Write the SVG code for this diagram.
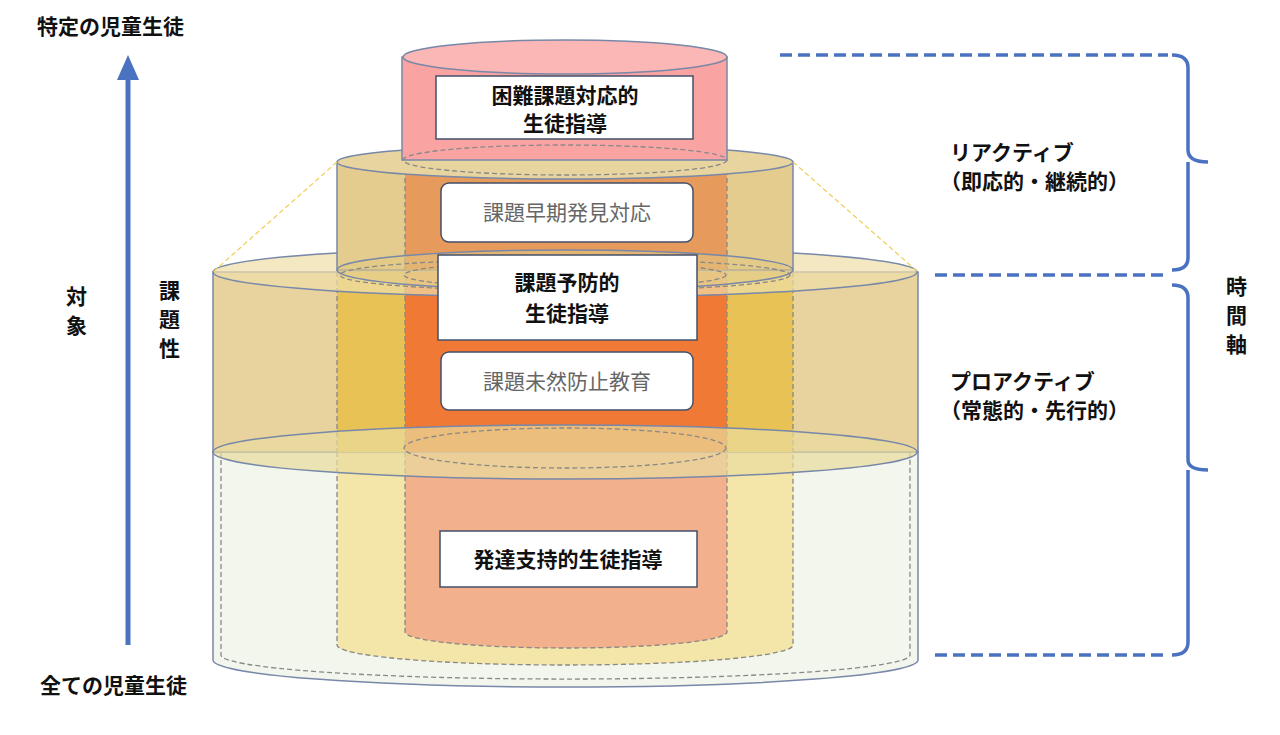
<svg xmlns="http://www.w3.org/2000/svg" width="1280" height="735" viewBox="0 0 1280 735">
<style>
text{font-family:"Noto Sans CJK JP","Noto Sans",sans-serif;fill:#111}
.b{font-weight:bold;font-size:21px}
.g{font-size:21px;fill:#666}
.edge{stroke:#7888a8;stroke-width:1.5}
.dash{stroke:#888;stroke-width:1.3;stroke-dasharray:5 3;fill:none}
.box{fill:#fff;stroke:#44506a;stroke-width:1.5}
.blue{stroke:#4a72c0;stroke-width:3.5;fill:none}
</style>
<rect width="1280" height="735" fill="#fff"/>
<g id="bottom-cylinder">
<path d="M213,452 V660 A352,27 0 0 0 918,660 V452 Z" fill="#f2f6ec" class="edge"/>
<path d="M337,452 V645 A228,20 0 0 0 793,645 V452 Z" fill="#f3e6a8"/>
<path d="M337,452 V645 A228,20 0 0 0 793,645 V452" class="dash"/>
<path d="M405,452 V632 A161,16 0 0 0 727,632 V452 Z" fill="#f2b08c"/>
<path d="M405,452 V632 A161,16 0 0 0 727,632 V452" class="dash"/>
<path d="M221,452 V655 A344,24 0 0 0 910,655 V452" class="dash" stroke-dasharray="2 3"/>
</g>
<g id="large-cylinder">
<rect x="213" y="272" width="705" height="180" fill="#e8d29e" class="edge"/>
<rect x="337" y="272" width="456" height="180" fill="#e8c255"/>
<rect x="405" y="272" width="322" height="180" fill="#f07a35"/>
<line x1="337" y1="272" x2="337" y2="452" class="dash"/>
<line x1="793" y1="272" x2="793" y2="452" class="dash"/>
<line x1="405" y1="272" x2="405" y2="452" class="dash"/>
<line x1="727" y1="272" x2="727" y2="452" class="dash"/>
<ellipse cx="565" cy="452" rx="352" ry="27" fill="#eadc9e" fill-opacity="0.7" class="edge"/>
<ellipse cx="565" cy="448" rx="161" ry="20" fill="#f0a080" class="dash"/>
<ellipse cx="565" cy="272" rx="352" ry="25" fill="#f0deaa" fill-opacity="0.7" class="edge"/>
</g>
<g id="middle-cylinder">
<rect x="337" y="162" width="456" height="108" fill="#e4cc8e" class="edge"/>
<rect x="405" y="162" width="322" height="108" fill="#e69a5c"/>
<line x1="405" y1="162" x2="405" y2="270" class="dash"/>
<line x1="727" y1="162" x2="727" y2="270" class="dash"/>
<ellipse cx="565" cy="270" rx="228" ry="20" fill="#e2c880" fill-opacity="0.6" class="edge"/>
<ellipse cx="565" cy="275" rx="225" ry="16" class="dash"/>
<ellipse cx="565" cy="275" rx="161" ry="13" fill="#ec8850" fill-opacity="0.6" class="dash"/>
<ellipse cx="565" cy="162" rx="228" ry="17" fill="#e8d49e" class="edge"/>
</g>
<g id="top-cylinder">
<rect x="402" y="57" width="325" height="103" fill="#f9a3a3" class="edge"/>
<ellipse cx="565" cy="160" rx="162" ry="15" fill="#ee9070" class="dash"/>
<ellipse cx="565" cy="57" rx="162" ry="17" fill="#fbb6b6" class="edge"/>
</g>
<g id="guides">
<line x1="337" y1="162" x2="213" y2="272" stroke="#f0d060" stroke-width="1.3" stroke-dasharray="5 3"/>
<line x1="793" y1="162" x2="918" y2="272" stroke="#f0d060" stroke-width="1.3" stroke-dasharray="5 3"/>
</g>
<g id="box-konnan"><rect x="436" y="76" width="257" height="63" class="box"/><text class="b" x="565" y="103" text-anchor="middle">困難課題対応的</text><text class="b" x="565" y="131" text-anchor="middle">生徒指導</text></g>
<g id="box-soki"><rect x="441" y="183" width="252" height="59" rx="8" class="box"/><text class="g" x="567" y="220" text-anchor="middle">課題早期発見対応</text></g>
<g id="box-yobo"><rect x="438" y="255" width="259" height="85" class="box"/><text class="b" x="567" y="290" text-anchor="middle">課題予防的</text><text class="b" x="567" y="321" text-anchor="middle">生徒指導</text></g>
<g id="box-mizen"><rect x="441" y="352" width="252" height="58" rx="8" class="box"/><text class="g" x="567" y="389" text-anchor="middle">課題未然防止教育</text></g>
<g id="box-hattatsu"><rect x="440" y="531" width="257" height="56" class="box"/><text class="b" x="568" y="567" text-anchor="middle">発達支持的生徒指導</text></g>
<g id="left-axis">
<line x1="128" y1="645" x2="128" y2="75" stroke="#4a72c0" stroke-width="5"/>
<polygon points="128,55 117,80 139,80" fill="#4a72c0"/>
<text class="b" x="37" y="34">特定の児童生徒</text>
<text class="b" x="40" y="693">全ての児童生徒</text>
<text class="b" x="66" y="304">対</text><text class="b" x="66" y="333">象</text>
<text class="b" x="159" y="298">課</text><text class="b" x="159" y="327">題</text><text class="b" x="159" y="356">性</text>
</g>
<g id="connectors">
<line x1="780" y1="55" x2="1168" y2="55" class="blue" stroke-width="3" stroke-dasharray="12 6"/>
<line x1="935" y1="275" x2="1168" y2="275" class="blue" stroke-width="3" stroke-dasharray="12 6"/>
<line x1="935" y1="655" x2="1168" y2="655" class="blue" stroke-width="3" stroke-dasharray="12 6"/>
<path d="M1172,55 Q1188,55 1188,68 V150 Q1188,162 1208,162 M1188,162 Q1188,174 1188,176 V258 Q1188,270 1172,270" class="blue"/>
<path d="M1172,285 Q1188,285 1188,298 V460 Q1188,470 1208,470 M1188,470 V642 Q1188,655 1172,655" class="blue"/>
</g>
<g id="right-labels">
<text class="b" x="950" y="160" font-size="20">リアクティブ</text>
<text class="b" x="940" y="189" font-size="20">（即応的・継続的）</text>
<text class="b" x="950" y="389" font-size="20">プロアクティブ</text>
<text class="b" x="940" y="418" font-size="20">（常態的・先行的）</text>
<text class="b" x="1226" y="294">時</text><text class="b" x="1226" y="323">間</text><text class="b" x="1226" y="352">軸</text>
</g>
</svg>
